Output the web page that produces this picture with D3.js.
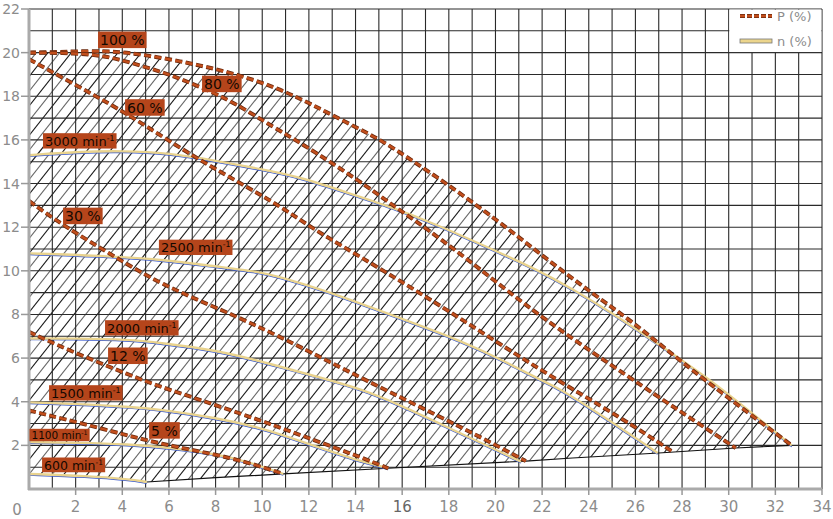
<!DOCTYPE html>
<html><head><meta charset="utf-8">
<script src="https://cdn.jsdelivr.net/npm/d3@7/dist/d3.min.js"></script>
<style>
html,body{margin:0;padding:0;background:#fff;}
svg{display:block;font-family:"DejaVu Sans",sans-serif;}
</style></head>
<body>
<svg id="chart" width="833" height="519"></svg>
<script>
// ---------- data ----------
const xTicks = [0,2,4,6,8,10,12,14,16,18,20,22,24,26,28,30,32,34];
const yTicks = [2,4,6,8,10,12,14,16,18,20,22];

// power iso-lines P (%)
const p100 = [[0,20.0],[1,20.02],[2,20.06],[3.5,20.08],[5,19.9],[7,19.5],[8.8,19.05],[10.6,18.4],[12,17.7],[13.6,16.8],[15.1,16.0],[16.5,15.0],[17.9,14.0],[20.1,12.3],[22,10.7],[24.1,9.0],[25.9,7.65],[28,5.8],[30.2,4.0],[32.7,2.0]];
const p80  = [[0,20.0],[2,19.98],[3.3,19.85],[4.5,19.5],[5.9,19.05],[7.3,18.45],[8.75,17.75],[10.6,16.5],[11.6,15.9],[14.2,14.1],[15.6,13.0],[17.1,11.9],[19.2,10.2],[21.9,7.9],[25.9,5.0],[28,3.5],[30.3,1.88]];
const p60  = [[0,19.7],[1.6,18.75],[3.05,17.9],[4.5,17.0],[6.8,15.4],[8.76,14.2],[10.8,12.95],[12.2,11.9],[14.6,10.4],[18.1,8.1],[21.9,5.45],[25.5,3.2],[27.6,1.7]];
const p30  = [[0,13.2],[1.5,12.05],[3.6,10.7],[5.6,9.4],[8.5,8.1],[9.9,7.4],[11.3,6.7],[14.2,5.1],[18.8,2.7],[21.3,1.28]];
const p12  = [[0,7.2],[1.6,6.4],[4.47,5.15],[5.6,4.7],[7.3,4.1],[9.9,3.15],[10.8,2.8],[14.2,1.47],[15.4,0.95]];
const p5   = [[0,3.6],[3.05,2.8],[5.6,2.05],[8.75,1.45],[10.9,0.69]];

// speed lines n (min-1)
const n3000 = [[0,15.3],[2,15.45],[4,15.5],[6,15.4],[8,15.05],[10,14.65],[11.6,14.3],[13.6,13.6],[15.6,12.9],[17.5,12.1],[19.2,11.3],[21.9,10.0],[23.4,9.1],[24.8,8.2],[26.9,6.7],[29.1,5.1],[31.2,3.3],[32.7,2.0]];
const n2500 = [[0,10.8],[3,10.7],[5.9,10.5],[8,10.2],[9.9,9.95],[10.8,9.7],[12.5,9.15],[14.2,8.5],[16.5,7.6],[18.5,6.8],[20.5,5.8],[21.9,5.0],[22.6,4.7],[24.8,3.2],[26.95,1.65]];
const n2000 = [[0,6.9],[2,6.9],[4.3,6.85],[5.6,6.7],[8.1,6.35],[9.9,5.85],[10.8,5.6],[12.5,5.1],[14.2,4.6],[16,3.8],[17.9,2.85],[19.5,2.05],[21.1,1.25]];
const n1500 = [[0,3.97],[2,3.9],[4.3,3.77],[5.6,3.65],[8.1,3.25],[9.9,2.8],[10.8,2.5],[12.3,1.95],[13.8,1.4],[15.4,0.95]];
const n1100 = [[0,2.15],[2,2.12],[4.3,2.05],[6,1.9],[8.1,1.6],[9.5,1.2],[10.9,0.69]];
const n600  = [[0,0.69],[2.5,0.6],[4.3,0.45],[5.05,0.32]];

// lower boundary of the working field
const bottomEdge = [[5.05,0.32],[8,0.52],[10.9,0.69],[15.4,0.95],[21.3,1.28],[23.3,1.42],[27,1.65],[30.3,1.88],[32.7,2.0]];

const pSeries = [p100,p80,p60,p30,p12,p5];
const nSeries = [n3000,n2500,n2000,n1500,n1100,n600];

// curve labels: text, x (left), y (centre), font size
const labelText = ["100 %","80 %","60 %","30 %","12 %","5 %","3000 min","2500 min","2000 min","1500 min","1100 min","600 min"];
const labelSup  = ["","","","","","","-1","-1","-1","-1","-1","-1"];
const labelX    = [2.96,7.42,4.12,1.46,3.39,5.15,0.6,5.57,3.26,0.86,0.02,0.56];
const labelY    = [20.58,18.56,17.48,12.51,6.1,2.68,15.95,11.07,7.38,4.4,2.47,1.1];
const labelSize = [14,14,14,14,14,14,13,13,13,13,10.5,12.5];

const legendText = ["P (%)","n (%)"];

// ---------- drawing ----------
const svg = d3.select("#chart");
const x = d3.scaleLinear().domain([0,34]).range([29,822]);
const y = d3.scaleLinear().domain([0,22]).range([489,9]);

const line = d3.line().x(d=>x(d[0])).y(d=>y(d[1])).curve(d3.curveBasis);
const lineLin = d3.line().x(d=>x(d[0])).y(d=>y(d[1]));

// hatched working field
const fieldPath = line(p100) + lineLin(bottomEdge.slice().reverse()).replace("M","L") + lineLin(n600.slice().reverse()).replace("M","L") + "Z";
svg.append("clipPath").attr("id","field").append("path").attr("d", fieldPath);

const hatch = svg.append("g").attr("clip-path","url(#field)");
const hSlope = 1.35;         // data units y per x
const hStep = 0.5;           // horizontal spacing in x units
const hatchK = d3.range(-20/hStep, 34/hStep + 1);
hatch.selectAll("line").data(hatchK).join("line")
  .attr("x1", k => x(k*hStep)).attr("y1", y(0))
  .attr("x2", k => x(k*hStep + 22/hSlope)).attr("y2", y(22))
  .attr("stroke", k => (Math.round(k) % 2 === 0) ? "#1a1a1a" : "#666")
  .attr("stroke-width", 1.1);

// grid
const grid = svg.append("g");
grid.selectAll("line.v").data(d3.range(0,35)).join("line").attr("class","v")
  .attr("x1",d=>x(d)).attr("x2",d=>x(d)).attr("y1",y(0)).attr("y2",y(22))
  .attr("stroke","#2a2a2a").attr("stroke-width",1.1);
grid.selectAll("line.h").data(d3.range(0,23)).join("line").attr("class","h")
  .attr("y1",d=>y(d)).attr("y2",d=>y(d)).attr("x1",x(0)).attr("x2",x(34))
  .attr("stroke","#2a2a2a").attr("stroke-width",1.1);

// bottom boundary
svg.append("path").attr("d", lineLin(bottomEdge)).attr("fill","none").attr("stroke","#111").attr("stroke-width",1.2);

// speed lines
nSeries.forEach(s=>{
  svg.append("path").attr("d",line(s)).attr("fill","none").attr("stroke","#3b5bd0").attr("stroke-width",1.2).attr("transform","translate(0,1.3)");
  svg.append("path").attr("d",line(s)).attr("fill","none").attr("stroke","#e9d38e").attr("stroke-width",2.4);
});

// power lines
pSeries.forEach(s=>{
  svg.append("path").attr("d",line(s)).attr("fill","none").attr("stroke","#6b2a0e").attr("stroke-width",4).attr("stroke-dasharray","7,3.5");
  svg.append("path").attr("d",line(s)).attr("fill","none").attr("stroke","#c24e1c").attr("stroke-width",2.4).attr("stroke-dasharray","7,3.5");
});

// axes
svg.append("line").attr("x1",x(0)).attr("x2",x(0)).attr("y1",y(0)+1).attr("y2",y(22)).attr("stroke","#aaa").attr("stroke-width",3);
svg.append("line").attr("x1",x(0)-1).attr("x2",x(34)).attr("y1",y(0)).attr("y2",y(0)).attr("stroke","#aaa").attr("stroke-width",3);

const ax = svg.append("g").attr("fill","#8c8c8c").attr("font-size",15);
ax.selectAll("line.xt").data(xTicks.filter(d=>d>0)).join("line").attr("class","xt")
  .attr("x1",d=>x(d)).attr("x2",d=>x(d)).attr("y1",y(0)).attr("y2",y(0)+6).attr("stroke","#999").attr("stroke-width",1.5);
ax.selectAll("text.xl").data(xTicks).join("text").attr("class","xl")
  .attr("x",d=> d===0 ? x(0)-12 : x(d)).attr("y",d=> d===0 ? 515 : 512)
  .attr("text-anchor","middle").attr("fill",d=>d===16?"#666":"#8c8c8c").text(d=>d);
ax.selectAll("line.yt").data(yTicks).join("line").attr("class","yt")
  .attr("x1",x(0)-8).attr("x2",x(0)).attr("y1",d=>y(d)).attr("y2",d=>y(d)).attr("stroke","#999").attr("stroke-width",1.5);
ax.selectAll("text.yl").data(yTicks).join("text").attr("class","yl")
  .attr("x",x(0)-9).attr("y",d=>y(d)).attr("dy","0.36em").attr("font-size",14)
  .attr("text-anchor","end").text(d=>d);

// labels
const lab = svg.append("g");
labelText.forEach((t,i)=>{
  const g = lab.append("g");
  const txt = g.append("text").attr("x",x(labelX[i])+2).attr("y",y(labelY[i])).attr("dy","0.36em")
    .attr("font-size",labelSize[i]).attr("fill","#140800").text(t);
  if (labelSup[i]) txt.append("tspan").attr("font-size",labelSize[i]*0.6).attr("dy","-0.6em").text(labelSup[i]);
  const bb = txt.node().getBBox();
  g.insert("rect","text").attr("x",bb.x-2).attr("y",y(labelY[i])-labelSize[i]*0.6).attr("width",bb.width+4).attr("height",labelSize[i]*1.18)
    .attr("fill","#b5451b");
});

// legend
const lg = svg.append("g");
lg.append("rect").attr("x",x(30)+0.6).attr("y",y(22)+0.6).attr("width",x(34)-x(30)-1.2).attr("height",y(20)-y(22)-1.2).attr("fill","#fff");
lg.append("line").attr("x1",740).attr("x2",772).attr("y1",16).attr("y2",16).attr("stroke","#6b2a0e").attr("stroke-width",4).attr("stroke-dasharray","5,2");
lg.append("line").attr("x1",740).attr("x2",772).attr("y1",16).attr("y2",16).attr("stroke","#c24e1c").attr("stroke-width",2.4).attr("stroke-dasharray","5,2");
lg.append("rect").attr("x",740).attr("y",39).attr("width",32).attr("height",4).attr("fill","#ecd58c").attr("stroke","#777").attr("stroke-width",0.8);
lg.selectAll("text").data(legendText).join("text").attr("x",777).attr("y",(d,i)=>16+i*25).attr("dy","0.36em")
  .attr("font-size",13).attr("fill","#8c8c8c").text(d=>d);
</script>
</body></html>
